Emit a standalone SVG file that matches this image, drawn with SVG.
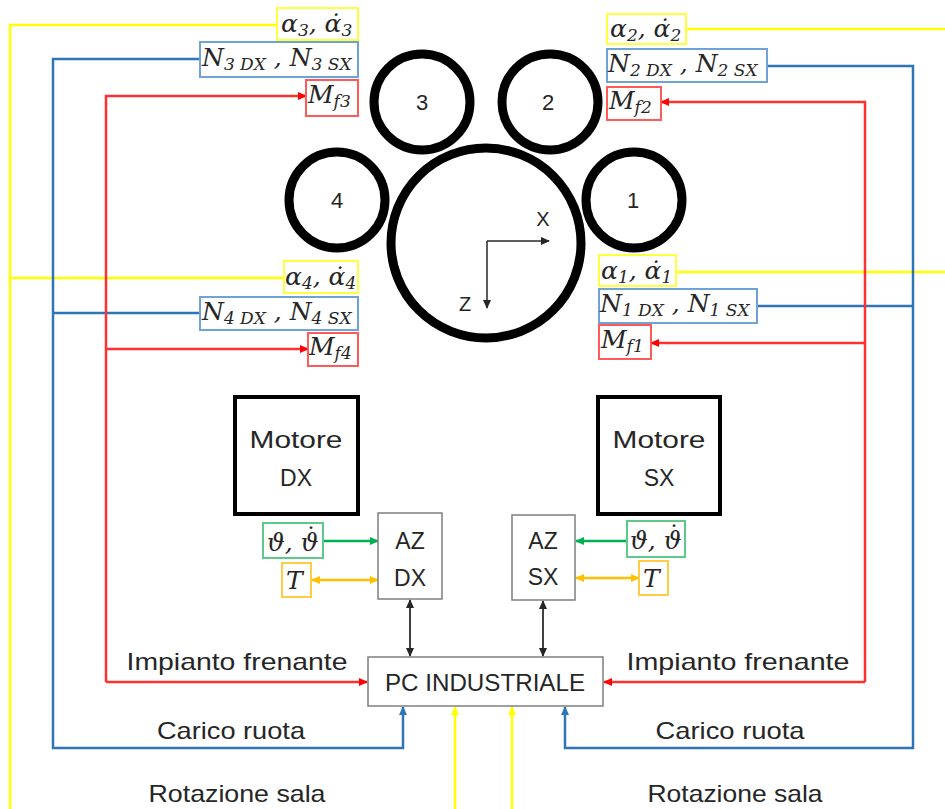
<svg xmlns="http://www.w3.org/2000/svg" width="945" height="809" viewBox="0 0 945 809">
<defs>
<marker id="aR" markerWidth="9" markerHeight="9" refX="8" refY="4.5" orient="auto-start-reverse" markerUnits="userSpaceOnUse"><path d="M0,0.5 L9,4.5 L0,8.5 z" fill="#FF0000"/></marker>
<marker id="aB" markerWidth="9" markerHeight="9" refX="8" refY="4.5" orient="auto-start-reverse" markerUnits="userSpaceOnUse"><path d="M0,0.5 L9,4.5 L0,8.5 z" fill="#2E75B6"/></marker>
<marker id="aY" markerWidth="9" markerHeight="9" refX="8" refY="4.5" orient="auto-start-reverse" markerUnits="userSpaceOnUse"><path d="M0,0.5 L9,4.5 L0,8.5 z" fill="#FFFF00"/></marker>
<marker id="aG" markerWidth="9" markerHeight="9" refX="8" refY="4.5" orient="auto-start-reverse" markerUnits="userSpaceOnUse"><path d="M0,0.5 L9,4.5 L0,8.5 z" fill="#00B050"/></marker>
<marker id="aO" markerWidth="9" markerHeight="9" refX="8" refY="4.5" orient="auto-start-reverse" markerUnits="userSpaceOnUse"><path d="M0,0.5 L9,4.5 L0,8.5 z" fill="#FFC000"/></marker>
<marker id="aK" markerWidth="9" markerHeight="9" refX="8" refY="4.5" orient="auto-start-reverse" markerUnits="userSpaceOnUse"><path d="M0,0.5 L9,4.5 L0,8.5 z" fill="#262626"/></marker>
</defs>
<style>
.yl{stroke:#FFFF00;stroke-width:2.5;fill:none}
.bl{stroke:#2E75B6;stroke-width:2.5;fill:none}
.rl{stroke:#FF3030;stroke-width:2.5;fill:none}
.gl{stroke:#00B050;stroke-width:2.5;fill:none}
.ol{stroke:#FFC000;stroke-width:2.5;fill:none}
.kl{stroke:#404040;stroke-width:2;fill:none}
.ax{stroke:#262626;stroke-width:1.5;fill:none}
.yb{fill:#fff;stroke:#FFFF40;stroke-width:2}
.bb{fill:#fff;stroke:#6FA3D8;stroke-width:2}
.rb{fill:#fff;stroke:#FF5A5A;stroke-width:2}
.gb{fill:#fff;stroke:#5CCB8A;stroke-width:2}
.ob{fill:#fff;stroke:#FFCC44;stroke-width:2}
.wh{fill:none;stroke:#000;stroke-width:9}
.mot{fill:#fff;stroke:#000;stroke-width:4}
.az{fill:#fff;stroke:#7F7F7F;stroke-width:1.5}
.m{font-family:"DejaVu Serif","Liberation Serif",serif;font-style:italic;font-size:25px;fill:#262626}
.s{font-size:17px}
.t{font-family:"Liberation Sans",Arial,sans-serif;fill:#262626;text-anchor:middle}
</style>
<rect width="945" height="809" fill="#fff"/>
<g id="connectors">
<path class="yl" d="M277,25 H10 V809"/>
<path class="yl" d="M686,29 H945"/>
<path class="yl" d="M10,278 H284"/>
<path class="yl" d="M676,272 H945"/>
<path class="yl" d="M455,809 V707" marker-end="url(#aY)"/>
<path class="yl" d="M512,809 V707" marker-end="url(#aY)"/>
<path class="bl" d="M200,59 H53 V748 H403 V707" marker-end="url(#aB)"/>
<path class="bl" d="M767,66 H913 V748 H565 V707" marker-end="url(#aB)"/>
<path class="bl" d="M53,313 H200"/>
<path class="bl" d="M757,306 H913"/>
<path class="rl" d="M106,682 V96 H306" marker-end="url(#aR)"/>
<path class="rl" d="M106,682 H367" marker-end="url(#aR)"/>
<path class="rl" d="M106,349 H308" marker-end="url(#aR)"/>
<path class="rl" d="M865,682 V102 H661" marker-end="url(#aR)"/>
<path class="rl" d="M865,682 H604" marker-end="url(#aR)"/>
<path class="rl" d="M865,343 H651" marker-end="url(#aR)"/>
<path class="kl" d="M410,600 V656" marker-start="url(#aK)" marker-end="url(#aK)"/>
<path class="kl" d="M543,601 V656" marker-start="url(#aK)" marker-end="url(#aK)"/>
<path class="gl" d="M323,541 H378" marker-end="url(#aG)"/>
<path class="gl" d="M627,541 H576" marker-end="url(#aG)"/>
<path class="ol" d="M312,580 H378" marker-start="url(#aO)" marker-end="url(#aO)"/>
<path class="ol" d="M576,578 H639" marker-start="url(#aO)" marker-end="url(#aO)"/>
<path class="ax" d="M487,241 H549" marker-end="url(#aK)"/>
<path class="ax" d="M487,241 V308" marker-end="url(#aK)"/>
</g>
<g id="body"><circle class="wh" cx="486" cy="243" r="95"/>
<text class="t" x="543" y="226" font-size="20">X</text>
<text class="t" x="465" y="311" font-size="20">Z</text></g>
<g id="wheel3"><circle class="wh" cx="422" cy="102" r="48"/><text class="t" x="422" y="110" font-size="22">3</text></g>
<g id="wheel2"><circle class="wh" cx="550" cy="102" r="48"/><text class="t" x="548" y="110" font-size="22">2</text></g>
<g id="wheel4"><circle class="wh" cx="337" cy="200" r="48"/><text class="t" x="337" y="208" font-size="22">4</text></g>
<g id="wheel1"><circle class="wh" cx="634" cy="200" r="48"/><text class="t" x="633" y="208" font-size="22">1</text></g>

<g id="lbl-a3"><rect class="yb" x="277" y="8" width="81" height="32"/><text class="m" x="281" y="32">α<tspan class="s" dy="4">3</tspan><tspan dy="-4">, α̇</tspan><tspan class="s" dy="4">3</tspan></text></g>
<g id="lbl-n3"><rect class="bb" x="200" y="42" width="158" height="35"/><text class="m" x="202" y="66">N<tspan class="s" dy="4">3 DX</tspan><tspan dy="-4"> , N</tspan><tspan class="s" dy="4">3 SX</tspan></text></g>
<g id="lbl-m3"><rect class="rb" x="306" y="80" width="52" height="36"/><text class="m" x="308" y="103">M<tspan class="s" dy="4">f3</tspan></text></g>

<g id="lbl-a2"><rect class="yb" x="607" y="14" width="79" height="30"/><text class="m" x="610" y="37">α<tspan class="s" dy="4">2</tspan><tspan dy="-4">, α̇</tspan><tspan class="s" dy="4">2</tspan></text></g>
<g id="lbl-n2"><rect class="bb" x="607" y="49" width="160" height="33"/><text class="m" x="608" y="72">N<tspan class="s" dy="4">2 DX</tspan><tspan dy="-4"> , N</tspan><tspan class="s" dy="4">2 SX</tspan></text></g>
<g id="lbl-m2"><rect class="rb" x="607" y="87" width="54" height="33"/><text class="m" x="609" y="109">M<tspan class="s" dy="4">f2</tspan></text></g>

<g id="lbl-a4"><rect class="yb" x="284" y="261" width="74" height="32"/><text class="m" x="285" y="285">α<tspan class="s" dy="4">4</tspan><tspan dy="-4">, α̇</tspan><tspan class="s" dy="4">4</tspan></text></g>
<g id="lbl-n4"><rect class="bb" x="200" y="297" width="158" height="33"/><text class="m" x="202" y="320">N<tspan class="s" dy="4">4 DX</tspan><tspan dy="-4"> , N</tspan><tspan class="s" dy="4">4 SX</tspan></text></g>
<g id="lbl-m4"><rect class="rb" x="308" y="333" width="50" height="33"/><text class="m" x="309" y="355">M<tspan class="s" dy="4">f4</tspan></text></g>

<g id="lbl-a1"><rect class="yb" x="599" y="255" width="77" height="31"/><text class="m" x="601" y="279">α<tspan class="s" dy="4">1</tspan><tspan dy="-4">, α̇</tspan><tspan class="s" dy="4">1</tspan></text></g>
<g id="lbl-n1"><rect class="bb" x="599" y="289" width="158" height="34"/><text class="m" x="600" y="312">N<tspan class="s" dy="4">1 DX</tspan><tspan dy="-4"> , N</tspan><tspan class="s" dy="4">1 SX</tspan></text></g>
<g id="lbl-m1"><rect class="rb" x="599" y="325" width="52" height="34"/><text class="m" x="601" y="348">M<tspan class="s" dy="4">f1</tspan></text></g>

<g id="motor-dx"><rect class="mot" x="235" y="397" width="123" height="117"/><text class="t" x="296" y="448" font-size="23" textLength="93" lengthAdjust="spacingAndGlyphs">Motore</text><text class="t" x="296" y="486" font-size="23">DX</text></g>
<g id="motor-sx"><rect class="mot" x="598" y="397" width="122" height="117"/><text class="t" x="659" y="448" font-size="23" textLength="93" lengthAdjust="spacingAndGlyphs">Motore</text><text class="t" x="659" y="486" font-size="23">SX</text></g>

<g id="az-dx"><rect class="az" x="378" y="513" width="64" height="86"/><text class="t" x="410" y="549" font-size="23">AZ</text><text class="t" x="410" y="586" font-size="23">DX</text></g>
<g id="az-sx"><rect class="az" x="512" y="515" width="63" height="85"/><text class="t" x="543" y="549" font-size="23">AZ</text><text class="t" x="543" y="585" font-size="23">SX</text></g>

<g id="lbl-th-dx"><rect class="gb" x="263" y="523" width="60" height="35"/><text class="m" x="267" y="551">ϑ, ϑ<tspan font-style="normal" dx="-14" dy="-6">˙</tspan></text></g>
<g id="lbl-t-dx"><rect class="ob" x="282" y="563" width="29" height="34"/><text class="m" x="286" y="589">T</text></g>
<g id="lbl-th-sx"><rect class="gb" x="627" y="521" width="58" height="36"/><text class="m" x="630" y="549">ϑ, ϑ<tspan font-style="normal" dx="-14" dy="-6">˙</tspan></text></g>
<g id="lbl-t-sx"><rect class="ob" x="639" y="561" width="29" height="34"/><text class="m" x="643" y="587">T</text></g>

<g id="pc"><rect class="az" x="368" y="657" width="235" height="49"/><text class="t" x="485" y="691" font-size="24" textLength="200" lengthAdjust="spacingAndGlyphs">PC INDUSTRIALE</text></g>

<g id="labels">
<text class="t" x="237" y="670" font-size="24" textLength="221" lengthAdjust="spacingAndGlyphs">Impianto frenante</text>
<text class="t" x="738" y="670" font-size="24" textLength="223" lengthAdjust="spacingAndGlyphs">Impianto frenante</text>
<text class="t" x="231" y="739" font-size="24" textLength="148" lengthAdjust="spacingAndGlyphs">Carico ruota</text>
<text class="t" x="730" y="739" font-size="24" textLength="149" lengthAdjust="spacingAndGlyphs">Carico ruota</text>
<text class="t" x="237" y="802" font-size="24" textLength="177" lengthAdjust="spacingAndGlyphs">Rotazione sala</text>
<text class="t" x="735" y="802" font-size="24" textLength="175" lengthAdjust="spacingAndGlyphs">Rotazione sala</text>
</g>
</svg>
